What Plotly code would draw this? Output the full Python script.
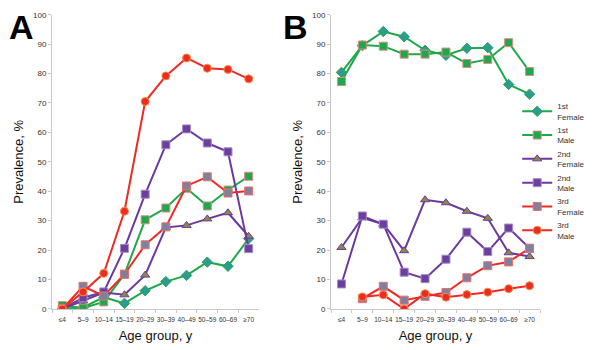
import plotly.graph_objects as go

age_groups = ["≤4", "5–9", "10–14", "15–19", "20–29", "30–39", "40–49", "50–59", "60–69", "≥70"]
series_names = ["1st Female", "1st Male", "2nd Female", "2nd Male", "3rd Female", "3rd Male"]

# Panel A
a_1st_female = [0.0, 0.5, 4.0, 1.9, 6.2, 9.3, 11.4, 15.9, 14.5, 23.9]
a_1st_male = [1.2, 0.3, 2.4, 11.8, 30.3, 34.3, 41.0, 35.0, 40.4, 45.1]
a_2nd_female = [0.0, 2.7, 5.6, 4.8, 11.5, 27.7, 28.4, 30.6, 32.7, 24.7]
a_2nd_male = [0.0, 3.8, 5.8, 20.6, 39.0, 55.8, 61.2, 56.4, 53.4, 20.5]
a_3rd_female = [0.0, 7.7, 4.4, 11.8, 21.8, 27.9, 41.8, 44.9, 39.4, 40.1]
a_3rd_male = [0.0, 5.8, 12.1, 33.2, 70.5, 79.2, 85.3, 81.8, 81.4, 78.2]

# Panel B
b_1st_female = [80.4, 89.5, 94.3, 92.5, 87.9, 86.2, 88.6, 88.8, 76.3, 73.0]
b_1st_male = [77.3, 89.7, 89.3, 86.6, 86.6, 87.3, 83.4, 84.8, 90.5, 80.7]
b_2nd_female = [20.9, 31.0, 28.8, 19.8, 37.1, 36.1, 33.2, 30.8, 19.1, 17.8]
b_2nd_male = [8.5, 31.6, 28.8, 12.5, 10.3, 16.9, 26.1, 19.5, 27.5, 20.6]
b_3rd_female = [None, 3.5, 7.7, 3.0, 4.3, 5.6, 10.6, 14.7, 16.0, 20.6]
b_3rd_male = [None, 4.1, 4.8, 0.0, 5.2, 4.0, 4.9, 5.7, 6.9, 7.9]

GREEN = "#1fa84b"
PURPLE = "#6c3a9c"
RED = "#ee2a24"

styles = [
    dict(line=GREEN, symbol="diamond", fill="#2e9a90", edge=GREEN, size=8),
    dict(line=GREEN, symbol="square", fill="#1ca84c", edge="#e28a80", size=8),
    dict(line=PURPLE, symbol="triangle-up", fill="#8a8a48", edge=PURPLE, size=8),
    dict(line=PURPLE, symbol="square", fill="#6b3f9e", edge="#a88cc4", size=8),
    dict(line=RED, symbol="square", fill="#7f80a0", edge="#e8706a", size=8),
    dict(line=RED, symbol="circle", fill="#ee2a24", edge="#f39040", size=8),
]

panel_a = [a_1st_female, a_1st_male, a_2nd_female, a_2nd_male, a_3rd_female, a_3rd_male]
panel_b = [b_1st_female, b_1st_male, b_2nd_female, b_2nd_male, b_3rd_female, b_3rd_male]

FONT = "Liberation Sans, Arial"

fig = go.Figure()
for i in range(6):
    s = styles[i]
    fig.add_trace(go.Scatter(
        x=age_groups, y=panel_a[i], mode="lines+markers", xaxis="x", yaxis="y",
        line=dict(color=s["line"], width=2),
        marker=dict(symbol=s["symbol"], size=s["size"], color=s["fill"],
                    line=dict(color=s["edge"], width=1)),
        showlegend=False, name=series_names[i]))
for i in range(6):
    s = styles[i]
    fig.add_trace(go.Scatter(
        x=age_groups, y=panel_b[i], mode="lines+markers", xaxis="x2", yaxis="y2",
        line=dict(color=s["line"], width=2),
        marker=dict(symbol=s["symbol"], size=s["size"], color=s["fill"],
                    line=dict(color=s["edge"], width=1)),
        showlegend=True, name=series_names[i].replace(" ", "<br>")))

axis_common = dict(showgrid=False, zeroline=False, showline=True, linecolor="#c8c8c8",
                   linewidth=1, ticks="outside", tickcolor="#c8c8c8", ticklen=3,
                   tickfont=dict(family=FONT, size=8, color="#333"))
xcommon = dict(axis_common, type="category", range=[-0.5, 9.5], tickangle=0,
               tickson="boundaries",
               tickfont=dict(family=FONT, size=6.5, color="#333"),
               ticklabelstandoff=4,
               title=dict(text="Age group, y", font=dict(family=FONT, size=13, color="#111"),
                          standoff=9))
ycommon = dict(axis_common, range=[0, 100], dtick=10,
               title=dict(text="Prevalence, %", font=dict(family=FONT, size=13, color="#111"),
                          standoff=6))

fig.update_layout(
    width=600, height=350,
    margin=dict(l=0, r=0, t=0, b=0),
    paper_bgcolor="white", plot_bgcolor="white",
    xaxis=dict(xcommon, domain=[0.0867, 0.4317], anchor="y"),
    yaxis=dict(ycommon, domain=[0.1057, 0.9686], anchor="x"),
    xaxis2=dict(xcommon, domain=[0.5517, 0.9], anchor="y2"),
    yaxis2=dict(ycommon, domain=[0.1057, 0.9686], anchor="x2"),
    legend=dict(x=0.862, y=0.735, xanchor="left", yanchor="top",
                font=dict(family=FONT, size=8, color="#333"),
                bgcolor="rgba(0,0,0,0)", itemwidth=30, tracegroupgap=0),
    showlegend=True,
    annotations=[
        dict(text="<b>A</b>", x=0.012, y=0.995, xref="paper", yref="paper", xanchor="left", yanchor="top",
             showarrow=False, font=dict(family=FONT, size=34, color="black")),
        dict(text="<b>B</b>", x=0.468, y=0.995, xref="paper", yref="paper", xanchor="left", yanchor="top",
             showarrow=False, font=dict(family=FONT, size=34, color="black")),
    ],
)

fig.write_html("out.html")
